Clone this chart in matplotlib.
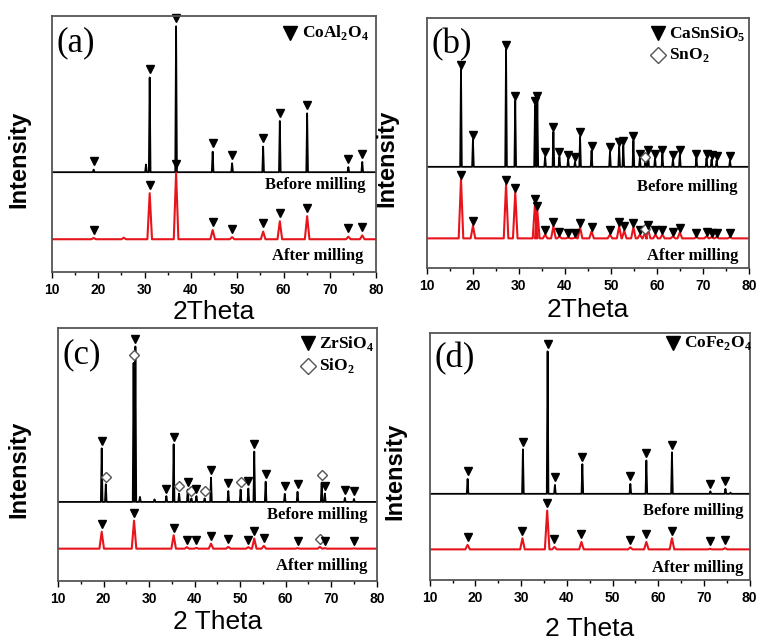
import matplotlib.pyplot as plt

# ---- data: peak positions (2theta), heights above baseline (axes fraction), phase mark
# phase: 't' = main phase (filled triangle), 'd' = second phase (open diamond), '-' = unmarked

# (a) CoAl2O4
a_before_pos = [19.0, 30.3, 31.1, 36.8, 44.7, 48.9, 55.6, 59.2, 65.1, 74.0, 77.0]
a_before_h = [0.01, 0.03, 0.37, 0.57, 0.08, 0.035, 0.10, 0.20, 0.23, 0.02, 0.04]
a_before_ph = ['t', '-', 't', 't', 't', 't', 't', 't', 't', 't', 't']
a_after_pos = [19.0, 25.5, 31.1, 36.8, 44.7, 48.9, 55.6, 59.2, 65.1, 74.0, 77.0]
a_after_h = [0.005, 0.006, 0.18, 0.26, 0.036, 0.008, 0.03, 0.07, 0.09, 0.01, 0.015]
a_after_ph = ['t', '-', 't', 't', 't', 't', 't', 't', 't', 't', 't']

# (b) CaSnSiO5 / SnO2
b_before_pos = [17.4, 20.0, 27.2, 29.2, 33.5, 34.0, 35.7, 37.5, 38.8, 40.7, 42.2, 43.3,
                45.8, 49.8, 51.8, 52.7, 54.9, 56.3, 57.5, 58.1, 59.6, 61.2, 63.5, 65.0,
                68.6, 70.8, 71.9, 73.0, 75.9]
b_before_h = [0.39, 0.11, 0.47, 0.265, 0.245, 0.265, 0.04, 0.14, 0.04, 0.03, 0.02, 0.12,
              0.065, 0.06, 0.08, 0.085, 0.105, 0.035, 0.02, 0.05, 0.035, 0.05, 0.03, 0.05,
              0.035, 0.035, 0.03, 0.025, 0.025]
b_before_ph = ['t', 't', 't', 't', 't', 't', 't', 't', 't', 't', 't', 't',
               't', 't', 't', 't', 't', 't', 'd', 't', 't', 't', 't', 't',
               't', 't', 't', 't', 't']
b_after_pos = [17.4, 20.0, 27.2, 29.2, 33.5, 34.0, 35.7, 37.5, 38.8, 40.7, 42.2, 43.3,
               45.8, 49.8, 51.8, 52.9, 54.9, 56.3, 57.4, 58.1, 59.7, 61.2, 63.5, 65.0,
               68.6, 70.8, 71.9, 73.0, 75.9]
b_after_h = [0.236, 0.05, 0.216, 0.183, 0.14, 0.11, 0.015, 0.048, 0.008, 0.003, 0.003, 0.044,
             0.028, 0.015, 0.048, 0.031, 0.044, 0.015, 0.02, 0.035, 0.015, 0.015, 0.008, 0.024,
             0.005, 0.008, 0.005, 0.005, 0.005]
b_after_ph = b_before_ph

# (c) ZrSiO4 / SiO2
c_before_pos = [19.6, 20.5, 26.6, 27.0, 28.0, 31.2, 33.8, 35.4, 36.6, 38.5, 39.3, 40.4,
                42.2, 43.6, 47.4, 50.1, 51.8, 53.1, 55.6, 59.8, 62.6, 67.9, 68.6, 73.0, 75.0]
c_before_h = [0.212, 0.07, 0.55, 0.615, 0.02, 0.01, 0.023, 0.228, 0.033, 0.049, 0.014, 0.023,
              0.014, 0.096, 0.043, 0.049, 0.053, 0.199, 0.08, 0.032, 0.04, 0.076, 0.033, 0.016, 0.012]
c_before_ph = ['t', 'd', 'd', 't', '-', '-', 't', 't', 'd', 't', 'd', 't',
               'd', 't', 't', 'd', 't', 't', 't', 't', 't', 'd', 't', 't', 't']
c_after_pos = [19.6, 26.7, 35.4, 38.3, 40.4, 43.6, 47.4, 51.8, 53.1, 55.2, 62.6, 67.5, 68.6, 75.0]
c_after_h = [0.067, 0.111, 0.053, 0.006, 0.003, 0.02, 0.007, 0.006, 0.04, 0.011, 0.002, 0.007, 0.002, 0.001]
c_after_ph = ['t', 't', 't', 't', 't', 't', 't', 't', 't', 't', 't', 'd', 't', 't']

# (d) CoFe2O4
d_before_pos = [18.3, 30.4, 35.8, 37.4, 43.4, 53.9, 57.4, 63.0, 71.4, 74.7, 75.8]
d_before_h = [0.06, 0.18, 0.577, 0.036, 0.12, 0.04, 0.135, 0.168, 0.01, 0.02, 0.005]
d_before_ph = ['t', 't', 't', 't', 't', 't', 't', 't', 't', 't', '-']
d_after_pos = [18.3, 30.3, 35.7, 37.3, 43.2, 53.9, 57.4, 63.0, 71.3, 74.6]
d_after_h = [0.018, 0.045, 0.157, 0.01, 0.03, 0.008, 0.03, 0.045, 0.002, 0.005]
d_after_ph = ['t'] * 10

panels = [
    dict(tag='(a)', xlabel='2Theta', pos=[0.0675, 0.577, 0.421, 0.398],
         before=(a_before_pos, a_before_h, a_before_ph), after=(a_after_pos, a_after_h, a_after_ph),
         base=(0.39, 0.128), gap=0.033, legend=[('t', r'CoAl$_\mathbf{2}$O$_\mathbf{4}$')],
         leg_xy=(0.735, 0.934), before_txt=(0.966, 0.34), after_txt=(0.96, 0.062),
         xlab_y=-0.11, ylab_x=-0.068),
    dict(tag='(b)', xlabel='2Theta', pos=[0.5545, 0.583, 0.418, 0.389],
         before=(b_before_pos, b_before_h, b_before_ph), after=(b_after_pos, b_after_h, b_after_ph),
         base=(0.405, 0.119), gap=0.018,
         legend=[('t', r'CaSnSiO$_\mathbf{5}$'), ('d', r'SnO$_\mathbf{2}$')],
         leg_xy=(0.717, 0.94), before_txt=(0.966, 0.325), after_txt=(0.966, 0.05),
         xlab_y=-0.12, ylab_x=-0.09),
    dict(tag='(c)', xlabel='2 Theta', pos=[0.0753, 0.0964, 0.414, 0.393],
         before=(c_before_pos, c_before_h, c_before_ph), after=(c_after_pos, c_after_h, c_after_ph),
         base=(0.313, 0.128), gap=0.03,
         legend=[('t', r'ZrSiO$_\mathbf{4}$'), ('d', r'SiO$_\mathbf{2}$')],
         leg_xy=(0.784, 0.94), before_txt=(0.97, 0.26), after_txt=(0.97, 0.06),
         xlab_y=-0.115, ylab_x=-0.088),
    dict(tag='(d)', xlabel='2 Theta', pos=[0.558, 0.098, 0.4156, 0.384],
         before=(d_before_pos, d_before_h, d_before_ph), after=(d_after_pos, d_after_h, d_after_ph),
         base=(0.349, 0.124), gap=0.031, legend=[('t', r'CoFe$_\mathbf{2}$O$_\mathbf{4}$')],
         leg_xy=(0.76, 0.96), before_txt=(0.98, 0.28), after_txt=(0.98, 0.05),
         xlab_y=-0.15, ylab_x=-0.072),
]

plt.rcParams['mathtext.fontset'] = 'custom'
plt.rcParams['mathtext.rm'] = 'Liberation Serif:bold'
plt.rcParams['mathtext.bf'] = 'Liberation Serif:bold'

serif = 'Liberation Serif'
sans = 'Liberation Sans'
red = '#e8141c'


def trace(pos, h, base, w):
    # baseline with sharp peaks at the listed positions
    xs, ys = [10], [base]
    for p, hh in sorted(zip(pos, h)):
        xs += [p - w, p, p + w]
        ys += [base, base + hh, base]
    xs.append(80)
    ys.append(base)
    return xs, ys


def marks(ax, pos, h, ph, base, gap):
    for p, hh, k in zip(pos, h, ph):
        if k == 't':
            ax.plot(p, base + hh + gap, 'v', color='black', ms=5.5, clip_on=False)
        elif k == 'd':
            ax.plot(p, base + hh + gap, 'D', mfc='white', mec='#555555', mew=1.0, ms=5.5,
                    clip_on=False)


fig = plt.figure(figsize=(7.7, 6.43), dpi=100)

for pn in panels:
    ax = fig.add_axes(pn['pos'])
    b0, b1 = pn['base']
    x, y = trace(pn['before'][0], pn['before'][1], b0, 0.18)
    ax.plot(x, y, color='black', lw=1.3)
    x, y = trace(pn['after'][0], pn['after'][1], b1, 0.5)
    ax.plot(x, y, color=red, lw=1.5)
    marks(ax, *pn['before'], b0, pn['gap'])
    marks(ax, *pn['after'], b1, pn['gap'])

    ax.set_xlim(10, 80)
    ax.set_ylim(0, 1)
    ax.set_yticks([])
    ax.set_xticks(range(10, 81, 10))
    ax.set_xticks(range(15, 80, 10), minor=True)
    ax.tick_params(axis='x', which='major', direction='out', length=4, width=1, pad=4,
                   labelsize=10)
    ax.tick_params(axis='x', which='minor', direction='out', length=2.5, width=1)
    for lab in ax.get_xticklabels():
        lab.set_fontfamily(sans)
        lab.set_fontweight('bold')
    for s in ax.spines.values():
        s.set_color('#555555')
        s.set_linewidth(1.3)

    ax.set_xlabel(pn['xlabel'], family=sans, fontsize=19)
    ax.xaxis.set_label_coords(0.5, pn['xlab_y'])
    ax.set_ylabel('Intensity', family=sans, fontsize=17, fontweight='bold')
    ax.yaxis.set_label_coords(pn['ylab_x'], 0.44)

    ax.text(0.015, 0.895, pn['tag'], transform=ax.transAxes, family=serif, fontsize=25,
            va='center', ha='left')
    ax.text(*pn['before_txt'], 'Before milling', transform=ax.transAxes, family=serif,
            fontsize=12, fontweight='bold', ha='right', va='center')
    ax.text(*pn['after_txt'], 'After milling', transform=ax.transAxes, family=serif,
            fontsize=12, fontweight='bold', ha='right', va='center')

    lx, ly = pn['leg_xy']
    for i, (k, name) in enumerate(pn['legend']):
        yy = ly - i * 0.088
        if k == 't':
            ax.plot(lx, yy, 'v', color='black', ms=9.5, transform=ax.transAxes)
        else:
            ax.plot(lx, yy, 'D', mfc='white', mec='#555555', mew=1.0, ms=8,
                    transform=ax.transAxes)
        ax.text(lx + 0.035, yy, name, transform=ax.transAxes, family=serif, fontsize=12.5,
                fontweight='bold', ha='left', va='center')

fig.savefig('out.png', dpi=100)
